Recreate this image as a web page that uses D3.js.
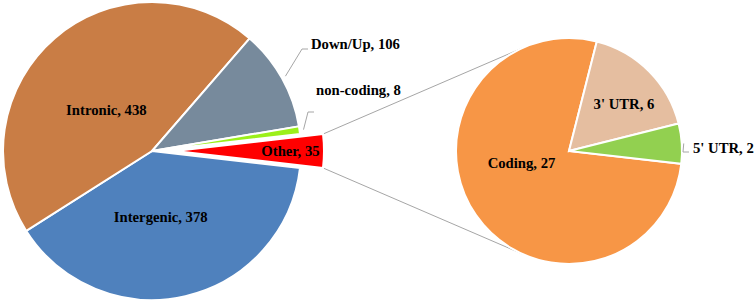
<!DOCTYPE html>
<html>
<head>
<meta charset="utf-8">
<script src="https://cdn.jsdelivr.net/npm/d3@7"></script>
<style>
  body { margin: 0; background: #fff; }
  text { font-family: "Liberation Serif", "Times New Roman", serif; font-weight: bold; font-size: 14.7px; fill: #000; }
</style>
</head>
<body>
<script>
// main pie, clockwise starting with the "Other" slice
var mainNames = ["Other", "Intergenic", "Intronic", "Down/Up", "non-coding"];
var mainValues = [35, 378, 438, 106, 8];
var mainColors = ["#FF0000", "#4F81BD", "#C97D45", "#778A9C", "#9BF01A"];

// breakdown of "Other"
var subNames = ["Coding", "3' UTR", "5' UTR"];
var subValues = [27, 6, 2];
var subColors = ["#F79646", "#E5BEA0", "#92D050"];

var width = 754, height = 302;
var deg = Math.PI / 180;

var svg = d3.select("body").append("svg")
    .attr("width", width)
    .attr("height", height);

var mainC = {x: 152, y: 151}, mainR = 149;
var subC = {x: 569, y: 151}, subR = 113;
var explode = 23;

var mainData = mainNames.map(function(n, i) { return {name: n, value: mainValues[i], color: mainColors[i]}; });
var subData = subNames.map(function(n, i) { return {name: n, value: subValues[i], color: subColors[i]}; });

var total = d3.sum(mainValues);
var otherSpan = 360 * mainValues[0] / total;

var mainPie = d3.pie().sort(null).value(function(d) { return d.value; })
    .startAngle((90 - otherSpan / 2) * deg)
    .endAngle((450 - otherSpan / 2) * deg);
var mainArcs = mainPie(mainData);

var subPie = d3.pie().sort(null).value(function(d) { return d.value; })
    .startAngle((90 + otherSpan / 2) * deg)
    .endAngle((450 + otherSpan / 2) * deg);
var subArcs = subPie(subData);

var mainArc = d3.arc().innerRadius(0).outerRadius(mainR);
var subArc = d3.arc().innerRadius(0).outerRadius(subR);

function polar(c, r, a) {
    return [c.x + r * Math.sin(a), c.y - r * Math.cos(a)];
}
function mid(d) { return (d.startAngle + d.endAngle) / 2; }

// connector lines from the exploded slice to the second pie
var other = mainArcs[0];
var otherC = {x: mainC.x + explode * Math.sin(mid(other)), y: mainC.y - explode * Math.cos(mid(other))};
var pTop = polar(otherC, mainR, other.startAngle);
var pBot = polar(otherC, mainR, other.endAngle);

function tangent(p, upper) {
    var dx = p[0] - subC.x, dy = p[1] - subC.y;
    var d = Math.sqrt(dx * dx + dy * dy);
    var base = Math.atan2(dy, dx);
    var off = Math.acos(subR / d);
    var a = upper ? base + off : base - off;
    return [subC.x + subR * Math.cos(a), subC.y + subR * Math.sin(a)];
}

svg.append("g").selectAll("line")
    .data([[pTop, tangent(pTop, true)], [pBot, tangent(pBot, false)]])
    .enter().append("line")
    .attr("x1", function(d) { return d[0][0]; })
    .attr("y1", function(d) { return d[0][1]; })
    .attr("x2", function(d) { return d[1][0]; })
    .attr("y2", function(d) { return d[1][1]; })
    .attr("stroke", "#A6A6A6")
    .attr("stroke-width", 1);

// main pie
var gMain = svg.append("g").attr("transform", "translate(" + mainC.x + "," + mainC.y + ")");
gMain.selectAll("path")
    .data(mainArcs)
    .enter().append("path")
    .attr("d", mainArc)
    .attr("transform", function(d, i) {
        if (i !== 0) return null;
        return "translate(" + (explode * Math.sin(mid(d))) + "," + (-explode * Math.cos(mid(d))) + ")";
    })
    .attr("fill", function(d) { return d.data.color; })
    .attr("stroke", "#fff")
    .attr("stroke-width", 2);

// second pie
var gSub = svg.append("g").attr("transform", "translate(" + subC.x + "," + subC.y + ")");
gSub.selectAll("path")
    .data(subArcs)
    .enter().append("path")
    .attr("d", subArc)
    .attr("fill", function(d) { return d.data.color; })
    .attr("stroke", "#fff")
    .attr("stroke-width", 2);

// labels inside slices: centroid plus a nudge
var insideNudge = {
    "Intronic": [3, 15], "Intergenic": [-8, -7],
    "Coding": [-1, -20], "3' UTR": [15, -7]
};

function label(g, arcs, arcGen) {
    arcs.forEach(function(d) {
        var n = insideNudge[d.data.name];
        if (!n) return;
        var c = arcGen.centroid(d);
        g.append("text")
            .attr("x", c[0] + n[0])
            .attr("y", c[1] + n[1])
            .attr("dy", "0.35em")
            .attr("text-anchor", "middle")
            .text(d.data.name + ", " + d.data.value);
    });
}
label(gMain, mainArcs, mainArc);
label(gSub, subArcs, subArc);

// "Other" label sits inside the exploded slice
var otherLabel = polar(otherC, mainR * 0.775, mid(other));
svg.append("text")
    .attr("x", otherLabel[0])
    .attr("y", otherLabel[1])
    .attr("dy", "0.35em")
    .attr("text-anchor", "middle")
    .text(other.data.name + ", " + other.data.value);

// outside labels with leader lines
var leaders = [
    {arc: mainArcs[3], c: mainC, r: mainR + 4, elbow: [302, 49], end: [308, 49], text: [311, 49]},
    {arc: mainArcs[4], c: mainC, r: mainR + 4, elbow: [308, 112], end: [314, 112], text: [316, 95]},
    {arc: subArcs[2], c: subC, r: subR + 2, elbow: [683, 152], end: [689, 152], text: [693, 153]}
];

leaders.forEach(function(l) {
    var s = polar(l.c, l.r, mid(l.arc));
    svg.append("path")
        .attr("d", d3.line()([s, l.elbow, l.end]))
        .attr("fill", "none")
        .attr("stroke", "#A6A6A6")
        .attr("stroke-width", 1);
    svg.append("text")
        .attr("x", l.text[0])
        .attr("y", l.text[1])
        .text(l.arc.data.name + ", " + l.arc.data.value);
});
</script>
</body>
</html>
